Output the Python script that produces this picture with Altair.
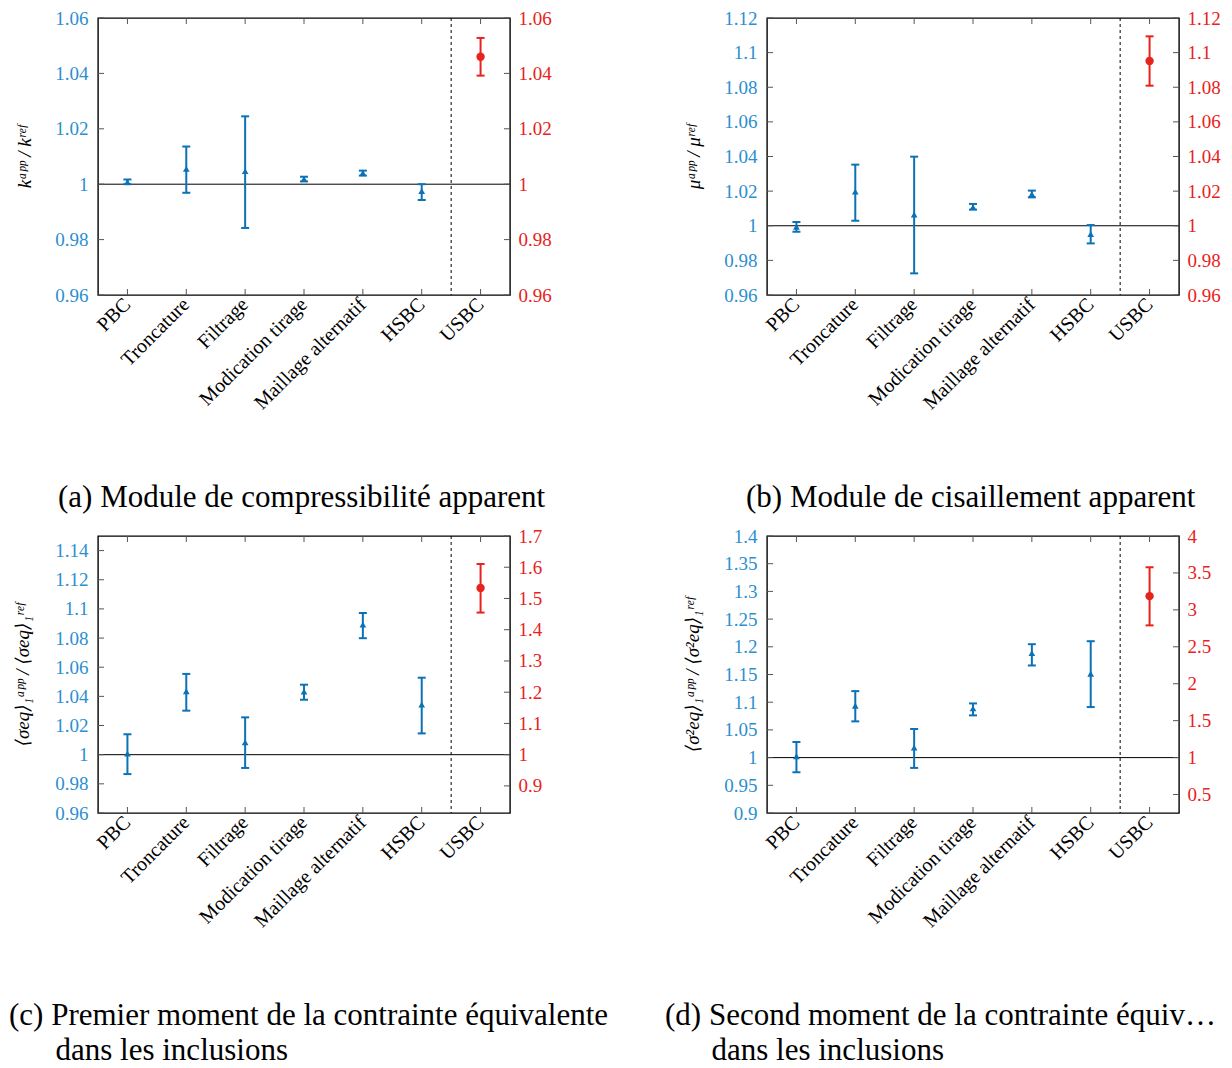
import altair as alt
import pandas as pd

# ---------------- data ----------------
categories = ["PBC", "Troncature", "Filtrage", "Modication tirage",
              "Maillage alternatif", "HSBC", "USBC"]
variants = categories[:6]
ref_cat = "USBC"

# (a) k_app / k_ref
k_val = [1.0008, 1.0055, 1.0047, 1.0019, 1.0041, 0.9975]
k_lo = [1.0000, 0.9969, 0.9842, 1.0010, 1.0031, 0.9943]
k_hi = [1.0017, 1.0136, 1.0245, 1.0027, 1.0049, 1.0000]
k_usbc = [1.0460, 1.0392, 1.0528]

# (b) mu_app / mu_ref
mu_val = [0.9994, 1.0197, 1.0064, 1.0108, 1.0183, 0.9952]
mu_lo = [0.9966, 1.0029, 0.9725, 1.0093, 1.0164, 0.9898]
mu_hi = [1.0022, 1.0353, 1.0399, 1.0126, 1.0203, 1.0004]
mu_usbc = [1.0952, 1.0809, 1.1094]

# (c) first moment
s1_val = [1.0007, 1.0435, 1.0085, 1.0432, 1.0892, 1.0343]
s1_lo = [0.9867, 1.0302, 0.9909, 1.0377, 1.0799, 1.0146]
s1_hi = [1.0140, 1.0554, 1.0256, 1.0480, 1.0972, 1.0528]
s1_usbc = [1.5337, 1.4549, 1.6104]

# (d) second moment
s2_val = [1.0024, 1.0936, 1.0180, 1.0888, 1.1885, 1.1513]
s2_lo = [0.9736, 1.0654, 0.9814, 1.0762, 1.1663, 1.0912]
s2_hi = [1.0282, 1.1200, 1.0516, 1.0978, 1.2047, 1.2101]
s2_usbc = [3.186, 2.790, 3.577]

# axis ranges / ticks
a_left = [0.96, 1.06]
a_lticks = [0.96, 0.98, 1.0, 1.02, 1.04, 1.06]
a_right = [0.96, 1.06]
a_rticks = [0.96, 0.98, 1.0, 1.02, 1.04, 1.06]

b_left = [0.96, 1.12]
b_lticks = [0.96, 0.98, 1.0, 1.02, 1.04, 1.06, 1.08, 1.1, 1.12]
b_right = [0.96, 1.12]
b_rticks = [0.96, 0.98, 1.0, 1.02, 1.04, 1.06, 1.08, 1.1, 1.12]

c_left = [0.96, 1.15]
c_lticks = [0.96, 0.98, 1.0, 1.02, 1.04, 1.06, 1.08, 1.1, 1.12, 1.14]
c_right = [0.8133, 1.7]
c_rticks = [0.9, 1.0, 1.1, 1.2, 1.3, 1.4, 1.5, 1.6, 1.7]

d_left = [0.9, 1.4]
d_lticks = [0.9, 0.95, 1.0, 1.05, 1.1, 1.15, 1.2, 1.25, 1.3, 1.35, 1.4]
d_right = [0.25, 4.0]
d_rticks = [0.5, 1.0, 1.5, 2.0, 2.5, 3.0, 3.5, 4.0]

titles = [
    "kᵃᵖᵖ / kʳᵉᶠ",
    "μᵃᵖᵖ / μʳᵉᶠ",
    "⟨σeq⟩₁ᵃᵖᵖ / ⟨σeq⟩₁ʳᵉᶠ",
    "⟨σ²eq⟩₁ᵃᵖᵖ / ⟨σ²eq⟩₁ʳᵉᶠ",
]
INDENT = "\u200b" + "\u00a0" * 6
captions = [
    "(a) Module de compressibilité apparent",
    "(b) Module de cisaillement apparent",
    ["(c) Premier moment de la contrainte équivalente",
     INDENT + "dans les inclusions"],
    ["(d) Second moment de la contrainte équivalente",
     INDENT + "dans les inclusions"],
]

# ---------------- style ----------------
FONT = "Liberation Serif, DejaVu Serif, serif"
BLUE_TXT = "#2b8fd0"
BLUE = "#0b72b6"
RED = "#e8221c"
TICK = "#555555"
W = 412
H = 277


def panel(val, lo, hi, usbc, ldom, lticks, rdom, rticks, ytitle, caption,
          cap_dx, title_pad, cap_limit=0):
    df = pd.DataFrame({"cat": variants, "val": val, "lo": lo, "hi": hi})
    du = pd.DataFrame({"cat": [ref_cat], "val": [usbc[0]],
                       "lo": [usbc[1]], "hi": [usbc[2]]})

    xs = alt.Scale(type="band", domain=categories, paddingInner=0, paddingOuter=0)
    xaxis = alt.Axis(title=None, labelAngle=-45, labelAlign="right",
                     labelBaseline="middle", labelFont=FONT, labelFontSize=20,
                     labelColor="black", ticks=False, domain=False,
                     labelPadding=6, grid=False)

    def X(**kw):
        return alt.X("cat:N", scale=xs, axis=xaxis, **kw)

    ls = alt.Scale(domain=ldom, nice=False, zero=False)
    la = alt.Axis(orient="left", title=ytitle, values=lticks, format=".2~f",
                  labelColor=BLUE_TXT, labelFont=FONT, labelFontSize=19,
                  ticks=False, domain=False, grid=False, labelPadding=10,
                  titleFont=FONT, titleFontStyle="italic", titleFontSize=19,
                  titleFontWeight="normal", titleColor="black",
                  titlePadding=title_pad, labelFlush=False)
    rs = alt.Scale(domain=rdom, nice=False, zero=False)
    ra = alt.Axis(orient="right", title=None, values=rticks, format=".2~f",
                  labelColor=RED, labelFont=FONT, labelFontSize=19,
                  ticks=False, domain=False, grid=False, labelPadding=8,
                  labelFlush=False)

    def YL(f):
        return alt.Y(f, scale=ls, axis=la)

    def YR(f):
        return alt.Y(f, scale=rs, axis=ra)

    base = alt.Chart(df)
    one = alt.Chart(pd.DataFrame({"v": [1.0]})).mark_rule(
        color="black", strokeWidth=1).encode(y=YL("v:Q"))
    lt = alt.Chart(pd.DataFrame({"t": lticks})).mark_rule(
        color=TICK, strokeWidth=1).encode(y=YL("t:Q"), x=alt.value(0), x2=alt.value(6))
    cb = alt.Chart(pd.DataFrame({"cat": categories})).mark_rule(
        color=TICK, strokeWidth=1).encode(x=X(), y=alt.value(H - 6), y2=alt.value(H))
    ctop = alt.Chart(pd.DataFrame({"cat": categories})).mark_rule(
        color=TICK, strokeWidth=1).encode(x=X(), y=alt.value(0), y2=alt.value(6))
    dash = alt.Chart(pd.DataFrame({"cat": [ref_cat]})).mark_rule(
        color="black", strokeWidth=1, strokeDash=[3, 3]).encode(x=X(bandPosition=0))
    bars = base.mark_rule(color=BLUE, strokeWidth=2).encode(
        x=X(), y=YL("lo:Q"), y2="hi:Q")
    cap_lo = base.mark_tick(color=BLUE, size=8, thickness=2, opacity=1).encode(
        x=X(), y=YL("lo:Q"))
    cap_hi = base.mark_tick(color=BLUE, size=8, thickness=2, opacity=1).encode(
        x=X(), y=YL("hi:Q"))
    pts = base.mark_point(shape="triangle-up", filled=True, color=BLUE,
                          size=45, opacity=1).encode(x=X(), y=YL("val:Q"))
    left = alt.layer(one, lt, cb, ctop, dash, bars, cap_lo, cap_hi, pts)

    rbase = alt.Chart(du)
    rt = alt.Chart(pd.DataFrame({"t": rticks})).mark_rule(
        color=TICK, strokeWidth=1).encode(y=YR("t:Q"), x=alt.value(W - 6), x2=alt.value(W))
    rbar = rbase.mark_rule(color=RED, strokeWidth=2).encode(
        x=X(), y=YR("lo:Q"), y2="hi:Q")
    rcap_lo = rbase.mark_tick(color=RED, size=8, thickness=2, opacity=1).encode(
        x=X(), y=YR("lo:Q"))
    rcap_hi = rbase.mark_tick(color=RED, size=8, thickness=2, opacity=1).encode(
        x=X(), y=YR("hi:Q"))
    rpt = rbase.mark_point(shape="circle", filled=True, color=RED, size=70,
                           opacity=1).encode(x=X(), y=YR("val:Q"))
    right = alt.layer(rt, rbar, rcap_lo, rcap_hi, rpt)

    tkw = dict(text=caption, orient="bottom", anchor="start", frame="group",
               dx=cap_dx, offset=70, font=FONT, fontSize=31,
               fontWeight="normal", color="black", lineHeight=35)
    if cap_limit:
        tkw["limit"] = cap_limit
    return alt.layer(left, right).resolve_scale(y="independent").properties(
        width=W, height=H, title=alt.TitleParams(**tkw))


pa = panel(k_val, k_lo, k_hi, k_usbc, a_left, a_lticks, a_right, a_rticks,
           titles[0], captions[0], -40, 20)
pb = panel(mu_val, mu_lo, mu_hi, mu_usbc, b_left, b_lticks, b_right, b_rticks,
           titles[1], captions[1], -21, 20)
pc = panel(s1_val, s1_lo, s1_hi, s1_usbc, c_left, c_lticks, c_right, c_rticks,
           titles[2], captions[2], -89, 22)
pd_ = panel(s2_val, s2_lo, s2_hi, s2_usbc, d_left, d_lticks, d_right, d_rticks,
            titles[3], captions[3], -102, 21, cap_limit=562)

row1 = alt.hconcat(pa, pb, spacing=257, bounds="flush")
row2 = alt.hconcat(pc, pd_, spacing=257, bounds="flush")

chart = alt.vconcat(row1, row2, spacing=518, bounds="flush").properties(
    padding={"left": 0, "top": 0, "right": 0, "bottom": 0},
    background="white"
).configure_view(stroke="black", strokeWidth=1.4)

chart.save("out.html", embed_options={"renderer": "svg", "actions": False})
